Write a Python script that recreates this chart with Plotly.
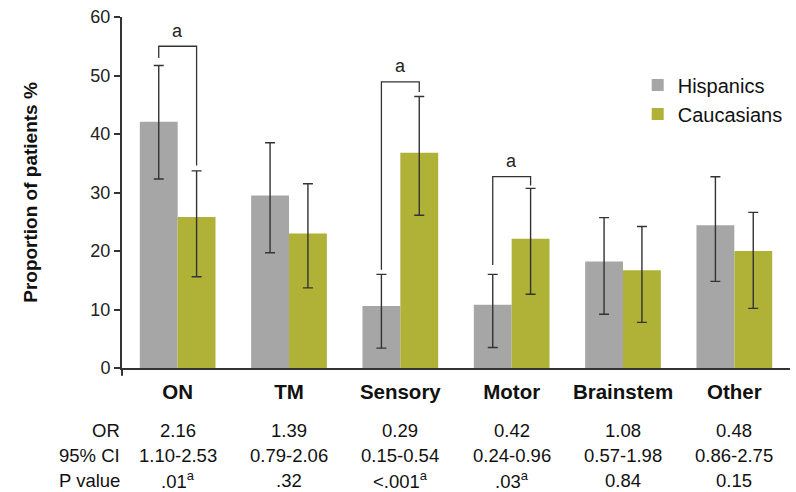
import plotly.graph_objects as go

categories = ["ON", "TM", "Sensory", "Motor", "Brainstem", "Other"]
hisp = [42.1, 29.5, 10.6, 10.8, 18.2, 24.4]
hisp_hi = [51.7, 38.5, 16.0, 16.0, 25.7, 32.7]
hisp_lo = [32.3, 19.7, 3.4, 3.5, 9.2, 14.8]
cauc = [25.8, 23.0, 36.8, 22.1, 16.7, 20.0]
cauc_hi = [33.7, 31.5, 46.4, 30.7, 24.2, 26.6]
cauc_lo = [15.6, 13.7, 26.1, 12.6, 7.8, 10.2]
or_vals = ["2.16", "1.39", "0.29", "0.42", "1.08", "0.48"]
ci_vals = ["1.10-2.53", "0.79-2.06", "0.15-0.54", "0.24-0.96", "0.57-1.98", "0.86-2.75"]
p_vals = [".01<sup>a</sup>", ".32", "<.001<sup>a</sup>", ".03<sup>a</sup>", "0.84", "0.15"]
# brackets: category index, top y, left foot y, right foot y
brackets = [(0, 55.0, 53.0, 34.6), (2, 48.9, 16.8, 47.2), (3, 32.7, 17.6, 31.2)]

FONT = "Arial, Liberation Sans, sans-serif"
GRAY = "#a6a6a6"
OLIVE = "#b0b238"
ERR = "#333333"
xs = list(range(len(categories)))
off = 0.17

fig = go.Figure()
fig.add_trace(go.Bar(
    x=xs, y=hisp, name="Hispanics", marker=dict(color=GRAY, line=dict(width=0)),
    error_y=dict(type="data", symmetric=False,
                 array=[h - v for h, v in zip(hisp_hi, hisp)],
                 arrayminus=[v - l for l, v in zip(hisp_lo, hisp)],
                 color=ERR, thickness=1.4, width=5)))
fig.add_trace(go.Bar(
    x=xs, y=cauc, name="Caucasians", marker=dict(color=OLIVE, line=dict(width=0)),
    error_y=dict(type="data", symmetric=False,
                 array=[h - v for h, v in zip(cauc_hi, cauc)],
                 arrayminus=[v - l for l, v in zip(cauc_lo, cauc)],
                 color=ERR, thickness=1.4, width=5)))

for idx, top, lf, rf in brackets:
    x0 = idx - off
    x1 = idx + off
    fig.add_shape(type="path",
                  path=f"M {x0} {lf} L {x0} {top} L {x1} {top} L {x1} {rf}",
                  line=dict(color=ERR, width=1.3), xref="x", yref="y")
    fig.add_annotation(x=idx, y=top + 0.6, text="a", showarrow=False,
                       yanchor="bottom", xref="x", yref="y",
                       font=dict(family=FONT, size=18, color="#222"))

# small stub of the y axis below zero, as in the reference
fig.add_shape(type="line", xref="paper", yref="paper", x0=0, x1=0, y0=0, y1=-0.022,
              line=dict(color="#333", width=2))

row_y = [-0.177, -0.248, -0.32]
rows = [("OR", or_vals), ("95% CI", ci_vals), ("P value", p_vals)]
for (label, vals), ry in zip(rows, row_y):
    fig.add_annotation(x=0, y=ry, xref="paper", yref="paper", text=label,
                       showarrow=False, xanchor="right", yanchor="middle",
                       font=dict(family=FONT, size=18.5, color="#111"))
    for i, v in enumerate(vals):
        fig.add_annotation(x=i, y=ry, xref="x", yref="paper", text=v,
                           showarrow=False, xanchor="center", yanchor="middle",
                           font=dict(family=FONT, size=18.5, color="#111"))

fig.update_layout(
    width=796, height=492,
    margin=dict(l=122, r=6, t=17, b=124, autoexpand=False),
    paper_bgcolor="white", plot_bgcolor="white",
    barmode="group", bargap=0.32, bargroupgap=0,
    font=dict(family=FONT, size=18, color="#111"),
    showlegend=True,
    legend=dict(x=0.772, y=0.862, xanchor="left", yanchor="top",
                font=dict(family=FONT, size=20, color="#111"),
                bgcolor="rgba(0,0,0,0)", tracegroupgap=0, itemwidth=30),
    xaxis=dict(range=[-0.5, 5.5], tickmode="array", tickvals=xs,
               ticktext=[f"<b>{c}</b>" for c in categories],
               tickfont=dict(family=FONT, size=20.5, color="#111"),
               showline=True, linecolor="#333", linewidth=2,
               ticks="", showgrid=False, zeroline=False, ticklabelstandoff=4,
               automargin=False),
    yaxis=dict(range=[0, 60], tickvals=[0, 10, 20, 30, 40, 50, 60],
               tickfont=dict(family=FONT, size=18, color="#222"),
               showline=True, linecolor="#333", linewidth=2,
               ticks="outside", ticklen=6, tickcolor="#333", tickwidth=1.5,
               showgrid=False, zeroline=False, automargin=True,
               title=dict(text="<b>Proportion of patients %</b>",
                          font=dict(family=FONT, size=19, color="#111"), standoff=48)),
)

fig.write_html("out.html")
